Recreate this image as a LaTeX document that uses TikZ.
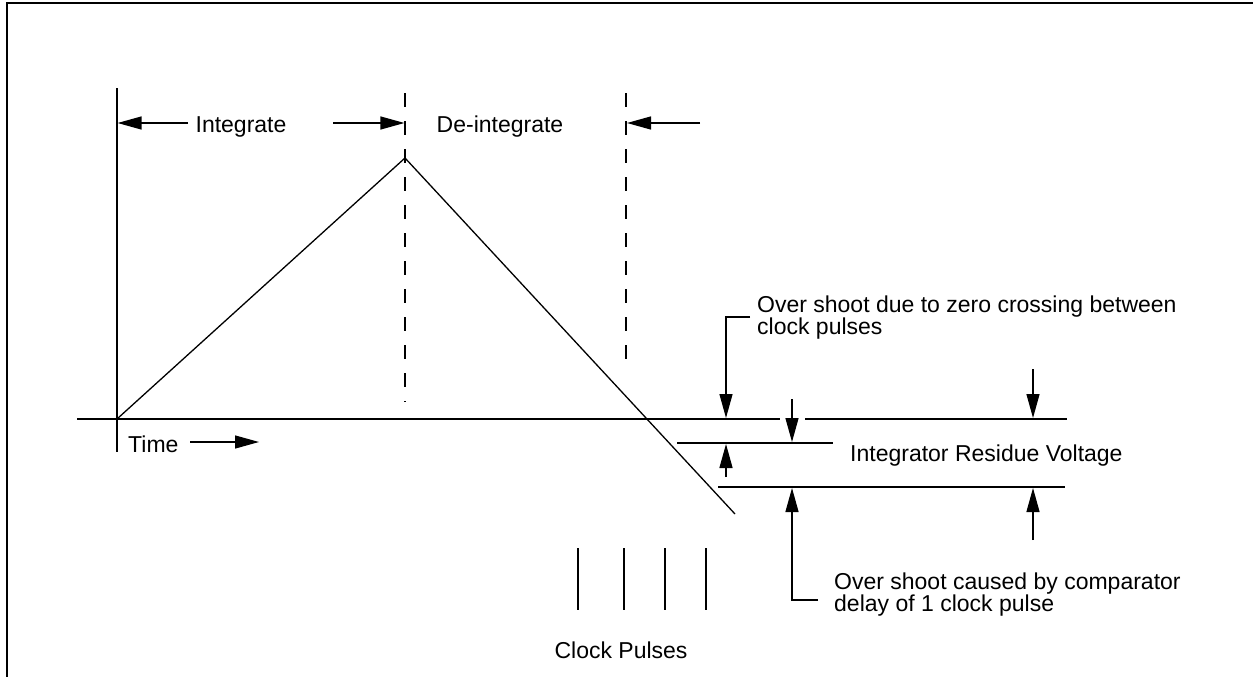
\documentclass[tikz,border=0pt]{standalone}
\usepackage{fontspec}
\setmainfont{Liberation Sans}
\usetikzlibrary{arrows.meta}
\begin{document}
\begin{tikzpicture}[x=1pt,y=-1pt,
  ln/.style={line width=1.3pt},
  arr/.style={ln,-{Triangle[length=24pt,width=13pt]}},
  dsh/.style={ln,dash pattern=on 14pt off 14pt},
  lbl/.style={font=\fontsize{23}{22}\selectfont,inner sep=0pt}]
\useasboundingbox (0,0) rectangle (1253,677);
% frame
\draw[line width=2.4pt] (7,677) -- (7,3) -- (1253,3);
% axes
\coordinate (vtop) at (117,88);
\coordinate (vbot) at (117,452);
\coordinate (o) at (117,419);
\draw[ln] (vtop) -- (vbot);
\coordinate (axl) at (77,419);
\coordinate (axm) at (780,419);
\coordinate (axn) at (805,419);
\coordinate (axr) at (1067,419);
\draw[ln] (axl) -- (axm);
\draw[ln] (axn) -- (axr);
% dashed phase boundaries
\coordinate (d1t) at (405,93);
\coordinate (d1b) at (405,402);
\coordinate (d2t) at (626,93);
\coordinate (d2b) at (626,372);
\draw[dsh] (d1t) -- (d1b);
\draw[dsh] (d2t) -- (d2b);
% ramp
\coordinate (apex) at (405,158);
\coordinate (rend) at (735,514);
\draw[ln] (o) -- (apex) -- (rend);
% phase labels
\node[lbl,anchor=base] (int) at (241,132) {Integrate};
\node[lbl,anchor=base] (deint) at (500,132) {De-integrate};
\coordinate (a1) at (188,123);
\coordinate (a1t) at (117.6,123);
\draw[arr] (a1) -- (a1t);
\coordinate (a2) at (333,123);
\coordinate (a2t) at (404.4,123);
\draw[arr] (a2) -- (a2t);
\coordinate (a3) at (700,123);
\coordinate (a3t) at (627,123);
\draw[arr] (a3) -- (a3t);
% time
\node[lbl,anchor=base west] (time) at (128,452) {Time};
\coordinate (ta) at (190,442);
\coordinate (tt) at (259,442);
\draw[arr] (ta) -- (tt);
% residue lines
\coordinate (r1l) at (677,443);
\coordinate (r1r) at (833,443);
\coordinate (r2l) at (718,487);
\coordinate (r2r) at (1065,487);
\draw[ln] (r1l) -- (r1r);
\draw[ln] (r2l) -- (r2r);
\node[lbl,anchor=base west] (riv) at (850,461) {Integrator Residue Voltage};
% overshoot due to zero crossing
\node[lbl,anchor=base west] (oz1) at (757,312) {Over shoot due to zero crossing between};
\node[lbl,anchor=base west] (oz2) at (757,334) {clock pulses};
\coordinate (oz0) at (750,317);
\coordinate (ozc) at (726,317);
\coordinate (ozt) at (726,418);
\draw[arr] (oz0) -- (ozc) -- (ozt);
\coordinate (u1) at (726,477);
\coordinate (u1t) at (726,444);
\draw[arr] (u1) -- (u1t);
\coordinate (s1) at (792,399);
\coordinate (s1t) at (792,442);
\draw[arr] (s1) -- (s1t);
\coordinate (rr1) at (1033,369);
\coordinate (rr1t) at (1033,418);
\draw[arr] (rr1) -- (rr1t);
\coordinate (rr2) at (1033,540);
\coordinate (rr2t) at (1033,488);
\draw[arr] (rr2) -- (rr2t);
% overshoot caused by comparator
\node[lbl,anchor=base west] (oc1) at (834,589) {Over shoot caused by comparator};
\node[lbl,anchor=base west] (oc2) at (834,611) {delay of 1 clock pulse};
\coordinate (oc0) at (818,600);
\coordinate (occ) at (792,600);
\coordinate (oct) at (792,488);
\draw[arr] (oc0) -- (occ) -- (oct);
% clock pulses
\foreach \i/\x in {1/578,2/624,3/665,4/706}{
  \coordinate (p\i t) at (\x,548);
  \coordinate (p\i b) at (\x,610);
  \draw[ln] (p\i t) -- (p\i b);
}
\node[lbl,anchor=base] (cp) at (621,658) {Clock Pulses};
\end{tikzpicture}
\end{document}
